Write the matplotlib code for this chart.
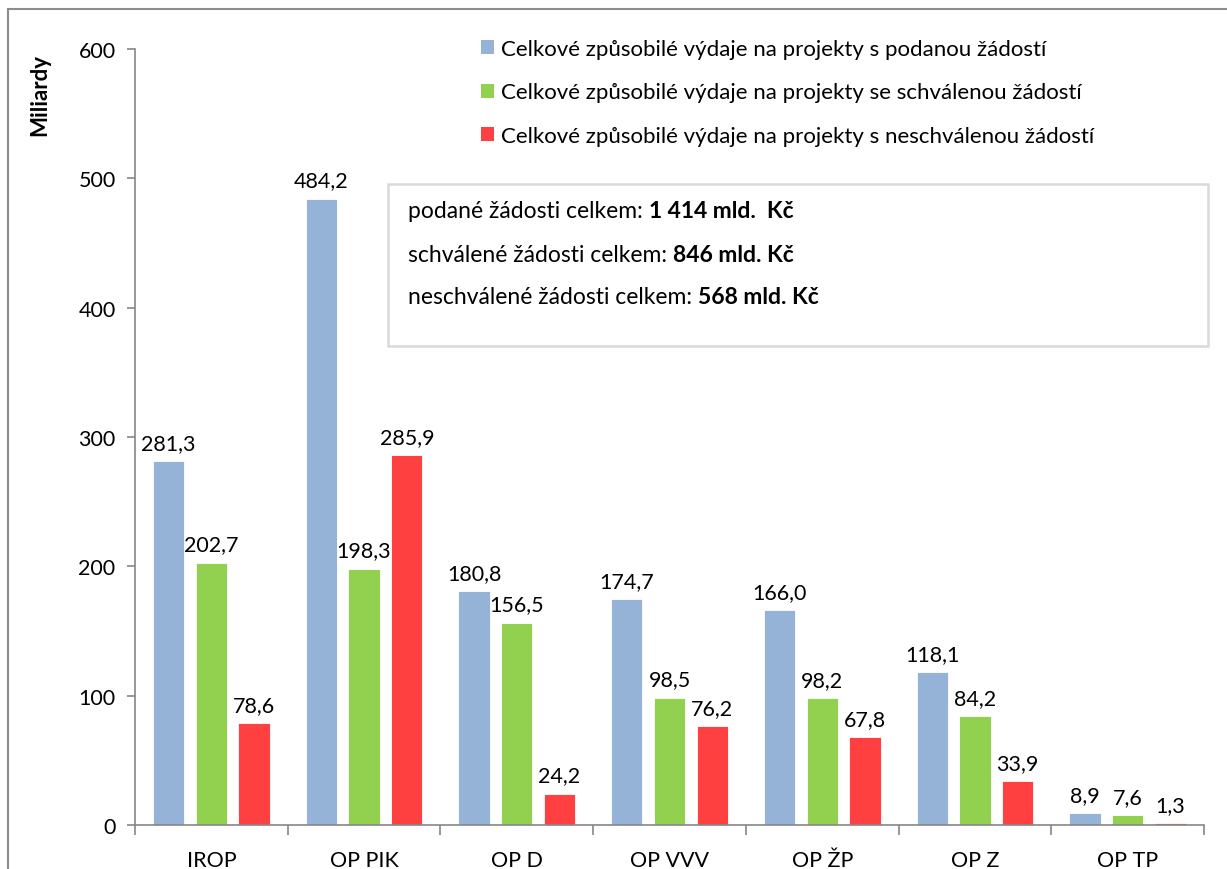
import matplotlib
matplotlib.use("Agg")
import matplotlib.pyplot as plt
import numpy as np
from matplotlib.patches import Rectangle
from matplotlib.lines import Line2D

plt.rcParams['font.family'] = ['Lato', 'DejaVu Sans']

categories = ["IROP", "OP PIK", "OP D", "OP VVV", "OP ŽP", "OP Z", "OP TP"]
podane = [281.3, 484.2, 180.8, 174.7, 166.0, 118.1, 8.9]
schvalene = [202.7, 198.3, 156.5, 98.5, 98.2, 84.2, 7.6]
neschvalene = [78.6, 285.9, 24.2, 76.2, 67.8, 33.9, 1.3]
series_names = [
    "Celkové způsobilé výdaje na projekty s podanou žádostí",
    "Celkové způsobilé výdaje na projekty se schválenou žádostí",
    "Celkové způsobilé výdaje na projekty s neschválenou žádostí",
]
colors = ["#95B3D7", "#92D050", "#FF4040"]
box_labels = ["podané žádosti celkem: ", "schválené žádosti celkem: ", "neschválené žádosti celkem: "]
box_values = ["1 414 mld.  Kč", "846 mld. Kč", "568 mld. Kč"]

W, H = 1227, 870
fig = plt.figure(figsize=(W / 100, H / 100), dpi=100)
ax = fig.add_axes([135 / W, 1 - 826 / H, (1204 - 135) / W, (826 - 50) / H])

x = np.arange(len(categories))
bw = 0.205
offs = [-0.28, 0.0, 0.28]
fs = 15.5
for data, c, off, name in zip([podane, schvalene, neschvalene], colors, offs, series_names):
    bars = ax.bar(x + off, data, width=bw, color=c, edgecolor='white', linewidth=0.6, label=name)
    for b, v in zip(bars, data):
        ax.annotate(f"{v:.1f}".replace('.', ','), (b.get_x() + b.get_width() / 2, b.get_height()),
                    xytext=(0, 6), textcoords='offset points', ha='center', va='bottom', fontsize=fs)

ax.set_xlim(-0.5, len(categories) - 0.5)
ax.set_ylim(0, 600)
ax.set_yticks(range(0, 601, 100))
ax.set_xticks(x)
ax.set_xticklabels(categories, fontsize=fs)
ax.set_xticks(np.arange(-0.5, len(categories), 1), minor=True)
ax.tick_params(axis='x', which='major', length=0, pad=18)
ax.tick_params(axis='x', which='minor', length=7, color='#868686', width=1.2)
ax.tick_params(axis='y', labelsize=fs, length=6, color='#868686', width=1.2, pad=8)
for s in ['top', 'right']:
    ax.spines[s].set_visible(False)
for s in ['left', 'bottom']:
    ax.spines[s].set_color('#868686')
    ax.spines[s].set_linewidth(1.2)

fig.text(40 / W, 1 - 95 / H, "Miliardy", rotation=90, ha='center', va='center', fontsize=16, fontweight='bold')

# legend
leg = ax.legend(frameon=False, loc='upper left', bbox_to_anchor=(470 / W, 1 - 29 / H),
                bbox_transform=fig.transFigure, fontsize=16, handlelength=0.6, handleheight=0.6,
                handletextpad=0.3, labelspacing=1.05, borderpad=0)
for h in leg.legend_handles:
    h.set_edgecolor('none')

# info box
fig.patches.append(Rectangle((388 / W, 1 - 347 / H), (1208 - 388) / W, (347 - 185) / H,
                             transform=fig.transFigure, facecolor='white', edgecolor='#d9d9d9',
                             linewidth=1.8, zorder=5))
renderer = fig.canvas.get_renderer()
ys = [212, 255, 298]
for lab, val, yy in zip(box_labels, box_values, ys):
    t = fig.text(408 / W, 1 - yy / H, lab, ha='left', va='center', fontsize=16.5, zorder=6)
    bb = t.get_window_extent(renderer=renderer)
    fig.text(bb.x1 / W, 1 - yy / H, val, ha='left', va='center', fontsize=16.5, fontweight='bold', zorder=6)

# outer frame
fig.add_artist(Line2D([8 / W, 8 / W], [0, 1 - 10 / H], transform=fig.transFigure, color='#8c8c8c', lw=1.5))
fig.add_artist(Line2D([8 / W, 1], [1 - 10 / H, 1 - 10 / H], transform=fig.transFigure, color='#8c8c8c', lw=1.5))

fig.savefig("out.png", dpi=100)
